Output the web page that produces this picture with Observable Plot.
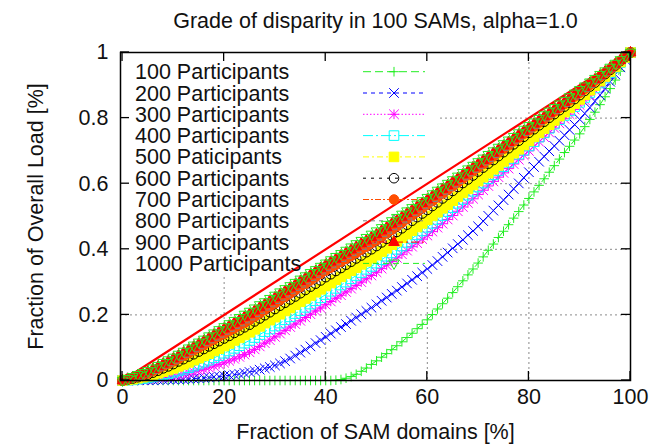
<!DOCTYPE html>
<html><head><meta charset="utf-8">
<script src="https://cdn.jsdelivr.net/npm/d3@7"></script>
<script src="https://cdn.jsdelivr.net/npm/@observablehq/plot@0.6"></script>
<style>
html,body{margin:0;padding:0;background:#fff;}
#chart{width:658px;height:446px;}
</style></head><body><div id="chart"></div>
<script>
// ---------- texts & ticks ----------
const titleText = "Grade of disparity in 100 SAMs, alpha=1.0";
const xLabel = "Fraction of SAM domains [%]";
const yLabel = "Fraction of Overall Load [%]";
const xTicks = [0, 20, 40, 60, 80, 100];
const yTicks = [0, 0.2, 0.4, 0.6, 0.8, 1];
const yTickLabels = ["0", "0.2", "0.4", "0.6", "0.8", "1"];
const seriesNames = ["100 Participants", "200 Participants", "300 Participants", "400 Participants",
  "500 Paticipants", "600 Participants", "700 Participants", "800 Participants", "900 Participants",
  "1000 Participants"];

// ---------- data (fraction of SAM domains 0..100 %, fraction of load) ----------
const samDomains = d3.range(0, 101);
const equalityX = [0, 100];
const equalityY = [0, 1];

const load100 = [
 0,0,0,0,0,0,0,0,0,0,
 0,0,0,0,0,0,0,0,0,0,
 0,0,0,0,0,0,0,0,0,0,
 0,0,0,0,0,0,0,0,0,0,
 0,0,0.001,0.003,0.007,0.012,0.019,0.028,0.038,0.049,
 0.06,0.071,0.082,0.094,0.106,0.118,0.131,0.144,0.158,0.171,
 0.185,0.201,0.218,0.234,0.251,0.268,0.286,0.304,0.322,0.34,
 0.358,0.377,0.397,0.416,0.436,0.455,0.475,0.495,0.515,0.535,
 0.555,0.575,0.595,0.615,0.635,0.655,0.675,0.695,0.714,0.733,
 0.752,0.774,0.796,0.818,0.841,0.865,0.89,0.916,0.943,0.971,
 1];
const load200 = [
 0,0,0,0.001,0.001,0.001,0.001,0.002,0.002,0.003,
 0.003,0.004,0.004,0.005,0.006,0.007,0.008,0.009,0.011,0.012,
 0.014,0.016,0.018,0.02,0.023,0.026,0.029,0.033,0.037,0.041,
 0.046,0.052,0.059,0.067,0.076,0.085,0.094,0.104,0.114,0.123,
 0.133,0.143,0.153,0.163,0.172,0.182,0.192,0.202,0.212,0.222,
 0.232,0.243,0.253,0.264,0.274,0.285,0.296,0.307,0.318,0.329,
 0.34,0.352,0.364,0.377,0.39,0.403,0.416,0.429,0.443,0.456,
 0.47,0.486,0.502,0.518,0.534,0.55,0.567,0.584,0.601,0.618,
 0.635,0.651,0.667,0.683,0.699,0.715,0.731,0.748,0.764,0.78,
 0.796,0.814,0.832,0.851,0.87,0.89,0.911,0.933,0.955,0.977,
 1];
const load300 = [
 0,0,0.001,0.002,0.003,0.004,0.006,0.008,0.01,0.012,
 0.014,0.017,0.02,0.023,0.026,0.03,0.034,0.039,0.044,0.049,
 0.054,0.06,0.066,0.072,0.079,0.086,0.095,0.104,0.114,0.123,
 0.133,0.143,0.153,0.163,0.172,0.182,0.192,0.202,0.212,0.221,
 0.231,0.241,0.251,0.26,0.27,0.28,0.29,0.3,0.31,0.32,
 0.33,0.341,0.352,0.363,0.374,0.385,0.396,0.408,0.419,0.431,
 0.442,0.454,0.466,0.478,0.491,0.503,0.516,0.529,0.541,0.554,
 0.567,0.58,0.593,0.607,0.62,0.633,0.646,0.66,0.673,0.687,
 0.7,0.714,0.728,0.742,0.756,0.77,0.784,0.798,0.812,0.826,
 0.84,0.855,0.87,0.886,0.901,0.917,0.933,0.95,0.967,0.983,
 1];
const load400 = [
 0,0.001,0.002,0.004,0.006,0.008,0.011,0.014,0.017,0.021,
 0.025,0.029,0.034,0.039,0.044,0.05,0.056,0.062,0.069,0.076,
 0.083,0.09,0.098,0.106,0.114,0.122,0.131,0.14,0.149,0.157,
 0.166,0.175,0.185,0.194,0.204,0.213,0.223,0.233,0.243,0.252,
 0.262,0.272,0.281,0.291,0.3,0.31,0.32,0.329,0.339,0.348,
 0.358,0.368,0.379,0.389,0.4,0.41,0.421,0.433,0.444,0.456,
 0.467,0.479,0.491,0.503,0.515,0.527,0.54,0.552,0.565,0.577,
 0.59,0.602,0.615,0.627,0.64,0.652,0.665,0.677,0.69,0.702,
 0.715,0.728,0.742,0.755,0.769,0.782,0.795,0.808,0.822,0.835,
 0.848,0.863,0.878,0.892,0.907,0.922,0.938,0.953,0.969,0.984,
 1];
const load500 = [
 0,0.002,0.004,0.007,0.01,0.013,0.017,0.022,0.027,0.032,
 0.037,0.043,0.049,0.055,0.062,0.068,0.075,0.082,0.09,0.097,
 0.105,0.113,0.122,0.13,0.139,0.147,0.156,0.165,0.175,0.184,
 0.193,0.202,0.212,0.221,0.231,0.24,0.25,0.259,0.269,0.278,
 0.288,0.297,0.307,0.316,0.326,0.335,0.344,0.354,0.363,0.373,
 0.382,0.393,0.403,0.414,0.424,0.435,0.446,0.457,0.468,0.479,
 0.49,0.502,0.513,0.525,0.536,0.548,0.56,0.572,0.584,0.596,
 0.608,0.62,0.632,0.644,0.656,0.668,0.68,0.693,0.705,0.718,
 0.73,0.743,0.755,0.768,0.78,0.793,0.806,0.818,0.831,0.844,
 0.857,0.871,0.885,0.899,0.913,0.927,0.942,0.956,0.971,0.985,
 1];
const load600 = [
 0,0.003,0.006,0.01,0.014,0.018,0.024,0.03,0.037,0.043,
 0.05,0.058,0.065,0.073,0.08,0.088,0.096,0.104,0.112,0.12,
 0.128,0.136,0.145,0.153,0.162,0.17,0.18,0.189,0.199,0.208,
 0.218,0.228,0.237,0.247,0.256,0.266,0.276,0.286,0.295,0.305,
 0.315,0.324,0.334,0.343,0.353,0.362,0.372,0.381,0.391,0.4,
 0.41,0.421,0.432,0.442,0.453,0.464,0.475,0.487,0.498,0.509,
 0.52,0.532,0.543,0.555,0.566,0.578,0.59,0.602,0.613,0.625,
 0.637,0.649,0.661,0.672,0.684,0.696,0.708,0.72,0.731,0.743,
 0.755,0.766,0.778,0.789,0.801,0.812,0.824,0.835,0.847,0.858,
 0.87,0.883,0.896,0.908,0.921,0.934,0.947,0.96,0.974,0.987,
 1];
const load700 = [
 0,0.004,0.008,0.013,0.017,0.022,0.029,0.036,0.044,0.051,
 0.058,0.066,0.075,0.083,0.092,0.1,0.108,0.117,0.125,0.134,
 0.142,0.151,0.159,0.168,0.176,0.185,0.195,0.205,0.215,0.225,
 0.235,0.245,0.255,0.265,0.275,0.285,0.295,0.305,0.315,0.325,
 0.335,0.344,0.353,0.362,0.371,0.38,0.389,0.399,0.408,0.418,
 0.427,0.438,0.449,0.459,0.47,0.481,0.492,0.503,0.514,0.525,
 0.536,0.547,0.558,0.57,0.581,0.592,0.603,0.615,0.626,0.638,
 0.649,0.66,0.672,0.683,0.695,0.706,0.717,0.729,0.74,0.752,
 0.763,0.774,0.786,0.797,0.809,0.82,0.831,0.843,0.854,0.866,
 0.877,0.889,0.901,0.914,0.926,0.938,0.95,0.963,0.975,0.988,
 1];
const load800 = [
 0,0.005,0.009,0.014,0.02,0.025,0.032,0.04,0.048,0.055,
 0.063,0.072,0.081,0.089,0.098,0.107,0.116,0.125,0.133,0.142,
 0.151,0.16,0.169,0.177,0.186,0.195,0.205,0.215,0.225,0.235,
 0.245,0.255,0.265,0.275,0.285,0.295,0.305,0.315,0.325,0.335,
 0.345,0.354,0.363,0.373,0.382,0.391,0.4,0.41,0.419,0.429,
 0.438,0.449,0.459,0.47,0.48,0.491,0.502,0.513,0.523,0.534,
 0.545,0.556,0.567,0.578,0.589,0.6,0.611,0.622,0.634,0.645,
 0.656,0.667,0.678,0.69,0.701,0.712,0.723,0.734,0.746,0.757,
 0.768,0.779,0.79,0.802,0.813,0.824,0.835,0.846,0.858,0.869,
 0.88,0.892,0.904,0.916,0.928,0.94,0.952,0.964,0.976,0.988,
 1];
const load900 = [
 0,0.005,0.01,0.016,0.021,0.027,0.035,0.043,0.051,0.059,
 0.067,0.076,0.085,0.094,0.103,0.112,0.121,0.13,0.14,0.149,
 0.158,0.167,0.176,0.185,0.194,0.203,0.213,0.223,0.233,0.243,
 0.253,0.263,0.273,0.283,0.293,0.303,0.313,0.323,0.333,0.343,
 0.353,0.362,0.371,0.381,0.39,0.399,0.408,0.418,0.427,0.437,
 0.446,0.457,0.467,0.478,0.488,0.499,0.51,0.52,0.531,0.541,
 0.552,0.563,0.574,0.584,0.595,0.606,0.617,0.628,0.639,0.65,
 0.661,0.672,0.683,0.694,0.705,0.716,0.727,0.738,0.75,0.761,
 0.772,0.783,0.794,0.805,0.816,0.827,0.838,0.849,0.861,0.872,
 0.883,0.895,0.907,0.918,0.93,0.942,0.954,0.965,0.977,0.988,
 1];
const load1000 = [
 0,0.005,0.011,0.017,0.023,0.029,0.037,0.045,0.054,0.062,
 0.07,0.079,0.088,0.098,0.107,0.116,0.125,0.135,0.144,0.154,
 0.163,0.172,0.182,0.191,0.201,0.21,0.22,0.23,0.239,0.249,
 0.259,0.269,0.279,0.288,0.298,0.308,0.318,0.328,0.337,0.347,
 0.357,0.367,0.377,0.386,0.396,0.406,0.416,0.426,0.435,0.445,
 0.455,0.465,0.475,0.486,0.496,0.506,0.516,0.526,0.537,0.547,
 0.557,0.568,0.579,0.589,0.6,0.611,0.622,0.633,0.644,0.655,
 0.666,0.677,0.688,0.699,0.71,0.721,0.732,0.743,0.754,0.765,
 0.776,0.787,0.798,0.809,0.82,0.831,0.842,0.853,0.864,0.875,
 0.886,0.897,0.909,0.92,0.932,0.943,0.954,0.966,0.977,0.989,
 1];
const seriesLoads = [load100, load200, load300, load400, load500, load600, load700, load800, load900, load1000];

// ---------- point symbols (gnuplot-like) ----------
const mk = (fn) => ({draw(c, size) { fn(c, Math.sqrt(size / Math.PI)); }});
const plusSym = mk((c, h) => { c.moveTo(-h, 0); c.lineTo(h, 0); c.moveTo(0, -h); c.lineTo(0, h); });
const timesSym = mk((c, h) => { c.moveTo(-h, -h); c.lineTo(h, h); c.moveTo(-h, h); c.lineTo(h, -h); });
const starSym = mk((c, h) => { c.moveTo(-h, 0); c.lineTo(h, 0); c.moveTo(0, -h); c.lineTo(0, h);
  c.moveTo(-h, -h); c.lineTo(h, h); c.moveTo(-h, h); c.lineTo(h, -h); });
const boxSym = mk((c, h) => { c.moveTo(-h, -h); c.lineTo(h, -h); c.lineTo(h, h); c.lineTo(-h, h); c.closePath(); });
const circleSym = mk((c, h) => { c.moveTo(h, 0); c.arc(0, 0, h, 0, 2 * Math.PI); });
const triUpSym = mk((c, h) => { c.moveTo(0, -1.25 * h); c.lineTo(1.1 * h, 0.7 * h); c.lineTo(-1.1 * h, 0.7 * h); c.closePath(); });
const triDownSym = mk((c, h) => { c.moveTo(0, 1.25 * h); c.lineTo(1.1 * h, -0.7 * h); c.lineTo(-1.1 * h, -0.7 * h); c.closePath(); });

const seriesStyles = [
  {color: "#22ee22", dash: "8,4", sym: plusSym, filled: false},
  {color: "#0000ff", dash: "4,4", sym: timesSym, filled: false},
  {color: "#ff00ff", dash: "1.5,2", sym: starSym, filled: false},
  {color: "#00ffff", dash: "10,3,2,3", sym: boxSym, filled: false},
  {color: "#ffff00", dash: "6,3,2,3", sym: boxSym, filled: true},
  {color: "#000000", dash: "3,5", sym: circleSym, filled: false},
  {color: "#ff4d00", dash: "6,2,2,2", sym: circleSym, filled: true},
  {color: "#808080", dash: "4,4", sym: triUpSym, filled: false},
  {color: "#ff0000", dash: "8,3,2,3", sym: triUpSym, filled: true},
  {color: "#22ee22", dash: "6,4", sym: triDownSym, filled: false}
];
const markR = 4.8;
const fontFamily = "'Liberation Sans', Arial, Helvetica, sans-serif";
const FS = 21.5;

// ---------- layout helpers ----------
const legendLeft = 135, legendRow0 = 71.7, legendStep = 21.3;
const sampleX1 = 363, sampleX2 = 425, sampleMid = 394;

function legendBackground(index, scales, values, dims) {
  const g = d3.create("svg:g");
  g.append("rect").attr("x", dims.marginLeft + 1).attr("y", dims.marginTop + 1)
    .attr("width", 437 - dims.marginLeft - 1).attr("height", 274 - dims.marginTop - 1).attr("fill", "#fff");
  return g.node();
}
function legendEntry(i) {
  return function() {
    const st = seriesStyles[i];
    const y = legendRow0 + legendStep * i;
    const g = d3.create("svg:g");
    g.append("text").attr("x", legendLeft).attr("y", y).attr("dy", "0.35em").attr("text-anchor", "start")
      .attr("font-family", fontFamily).attr("font-size", FS).attr("fill", "#111").text(seriesNames[i]);
    g.append("line").attr("x1", sampleX1).attr("x2", sampleX2).attr("y1", y).attr("y2", y)
      .attr("stroke", st.color).attr("stroke-width", 1).attr("stroke-dasharray", st.dash);
    g.append("path").attr("transform", `translate(${sampleMid},${y})`)
      .attr("d", d3.symbol(st.sym, markR * markR * Math.PI)())
      .attr("fill", st.filled ? st.color : "none").attr("stroke", st.color).attr("stroke-width", 1);
    return g.node();
  };
}
function tickMarks(index, scales, values, dims) {
  const g = d3.create("svg:g").attr("stroke", "#000").attr("stroke-width", 1.3);
  const l = dims.marginLeft, t = dims.marginTop;
  const r = dims.width - dims.marginRight, b = dims.height - dims.marginBottom;
  const L = 9;
  for (const v of xTicks) {
    const px = scales.x(v);
    g.append("line").attr("x1", px).attr("x2", px).attr("y1", b).attr("y2", b - L);
    g.append("line").attr("x1", px).attr("x2", px).attr("y1", t).attr("y2", t + L);
  }
  for (const v of yTicks) {
    const py = scales.y(v);
    g.append("line").attr("x1", l).attr("x2", l + L).attr("y1", py).attr("y2", py);
    g.append("line").attr("x1", r).attr("x2", r - L).attr("y1", py).attr("y2", py);
  }
  return g.node();
}

// ---------- marks ----------
const marks = [
  Plot.ruleX(xTicks.slice(1, -1), {stroke: "#8a8a8a", strokeWidth: 1, strokeDasharray: "2,3"}),
  Plot.ruleY(yTicks.slice(1, -1), {stroke: "#8a8a8a", strokeWidth: 1, strokeDasharray: "2,3"}),
  legendBackground,
  Plot.line(equalityX.map((x, j) => ({x, y: equalityY[j]})), {x: "x", y: "y", stroke: "#ff0000", strokeWidth: 2.2})
];
seriesLoads.forEach((vals, i) => {
  const st = seriesStyles[i];
  const rows = samDomains.map((x, j) => ({x, y: vals[j]}));
  marks.push(legendEntry(i));
  marks.push(Plot.line(rows, {x: "x", y: "y", stroke: st.color, strokeWidth: 1, strokeDasharray: st.dash}));
  marks.push(Plot.dot(rows, {x: "x", y: "y", symbol: st.sym, r: markR,
    fill: st.filled ? st.color : "none", stroke: st.color, strokeWidth: 1}));
});
marks.push(
  Plot.frame({stroke: "#000", strokeWidth: 1.5}),
  tickMarks,
  Plot.text(xTicks, {x: d => d, frameAnchor: "bottom", dy: 23, text: d => String(d), fontSize: FS, fill: "#111"}),
  Plot.text(yTicks, {y: d => d, frameAnchor: "left", dx: -12, textAnchor: "end", text: (d, i) => yTickLabels[i], fontSize: FS, fill: "#111"}),
  Plot.text([xLabel], {frameAnchor: "bottom", dy: 58, text: d => d, fontSize: FS, fill: "#111"}),
  Plot.text([yLabel], {frameAnchor: "left", dx: -84, rotate: -90, textAnchor: "middle", text: d => d, fontSize: FS, fill: "#111"}),
  Plot.text([titleText], {frameAnchor: "top", dy: -40, text: d => d, fontSize: FS, fill: "#111"})
);

const chart = Plot.plot({
  width: 658, height: 446,
  marginLeft: 120, marginRight: 28, marginTop: 52, marginBottom: 66,
  x: {domain: [-0.4, 100], axis: null},
  y: {domain: [0, 1], axis: null},
  style: {fontFamily: fontFamily, background: "#fff", overflow: "visible"},
  marks
});
document.getElementById("chart").appendChild(chart);
</script>
</body></html>
